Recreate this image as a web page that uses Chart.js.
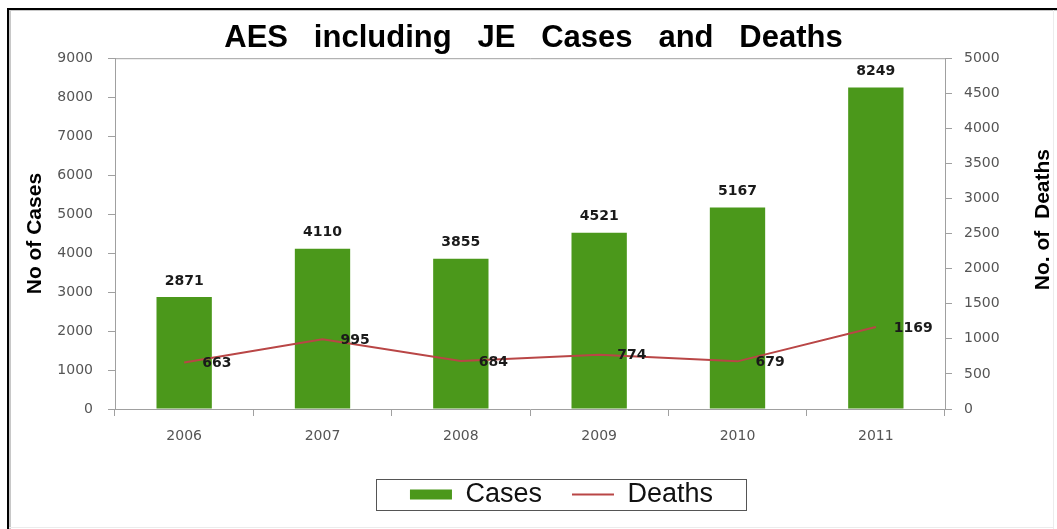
<!DOCTYPE html>
<html>
<head>
<meta charset="utf-8">
<script src="https://cdn.jsdelivr.net/npm/chart.js@4.4.1/dist/chart.umd.min.js"></script>
<style>
  html, body { margin: 0; padding: 0; background: #fff; }
  #wrap { width: 1057px; height: 529px; }
</style>
</head>
<body>
<div id="wrap"><canvas id="aesChart"></canvas></div>
<script>
// data
const years = ['2006', '2007', '2008', '2009', '2010', '2011'];
const cases = [2871, 4110, 3855, 4521, 5167, 8249];
const deaths = [663, 995, 684, 774, 679, 1169];
const casesTicks = { min: 0, max: 9000, step: 1000 };
const deathsTicks = { min: 0, max: 5000, step: 500 };

const tickFont = { family: 'DejaVu Sans', size: 14 };
const labelFont = 'bold 14px "DejaVu Sans"';
const legendShift = { x: 28, y: -16 }; // legend sits a bit right of centre in the original

// frame, plot border, value labels, legend box, right axis title
const decorations = {
  id: 'decorations',
  beforeLayout(chart) {
    const lg = chart.legend;
    if (lg && !lg._patched) {
      const fit = lg.fit;
      lg.fit = function () { fit.call(this); this.height = 54; };
      const draw = lg.draw;
      lg.draw = function () {
        this.ctx.save();
        this.ctx.translate(legendShift.x, legendShift.y);
        draw.call(this);
        this.ctx.restore();
      };
      lg._patched = true;
    }
  },
  beforeDraw(chart) {
    const ctx = chart.ctx;
    ctx.save();
    ctx.fillStyle = '#fff';
    ctx.fillRect(0, 0, chart.width, chart.height);
    ctx.fillStyle = '#000';
    ctx.fillRect(7, 8, 2, chart.height - 8);
    ctx.fillRect(7, 8, chart.width - 7, 2);
    ctx.fillStyle = '#c8c8c8';
    ctx.fillRect(9, 10, 2, chart.height - 10);
    ctx.fillRect(9, 10, chart.width - 9, 1);
    ctx.fillStyle = '#ececec';
    ctx.fillRect(chart.width - 4, 10, 1, chart.height - 10);
    ctx.fillRect(9, chart.height - 2, chart.width - 12, 1);
    ctx.restore();
  },
  afterDatasetsDraw(chart) {
    const ctx = chart.ctx;
    const a = chart.chartArea;
    ctx.save();
    ctx.strokeStyle = '#a0a0a0';
    ctx.lineWidth = 1;
    ctx.beginPath();
    ctx.moveTo(a.left, a.top + 0.5);
    ctx.lineTo(a.right + 0.5, a.top + 0.5);
    ctx.lineTo(a.right + 0.5, a.bottom);
    ctx.stroke();

    ctx.font = labelFont;
    ctx.fillStyle = '#1a1a1a';
    const barMeta = chart.getDatasetMeta(0);
    barMeta.data.forEach((bar, i) => {
      ctx.textAlign = 'center';
      ctx.textBaseline = 'middle';
      ctx.fillText(String(cases[i]), bar.x, bar.y - 16);
    });
    const lineMeta = chart.getDatasetMeta(1);
    lineMeta.data.forEach((pt, i) => {
      ctx.textAlign = 'left';
      ctx.textBaseline = 'middle';
      ctx.fillText(String(deaths[i]), pt.x + 18, pt.y + 1);
    });

    // right axis title, reads bottom to top
    const y1 = chart.scales.y1;
    ctx.translate(y1.right - 12, (a.top + a.bottom) / 2 - 14);
    ctx.rotate(-Math.PI / 2);
    ctx.font = 'bold 21px "Liberation Sans"';
    ctx.fillStyle = '#000';
    ctx.textAlign = 'center';
    ctx.fillText('No. of  Deaths', 0, 0);
    ctx.restore();
  },
  afterDraw(chart) {
    const lg = chart.legend;
    const boxes = lg.legendHitBoxes;
    if (!boxes || !boxes.length) return;
    const first = boxes[0];
    const last = boxes[boxes.length - 1];
    const cy = first.top + first.height / 2 + legendShift.y;
    const x0 = first.left + legendShift.x - 34;
    const x1 = last.left + last.width + legendShift.x + 33;
    const ctx = chart.ctx;
    ctx.save();
    ctx.strokeStyle = '#555';
    ctx.lineWidth = 1;
    ctx.strokeRect(Math.round(x0) + 0.5, Math.round(cy - 15.5) + 0.5, Math.round(x1 - x0), 31);
    ctx.restore();
  }
};

new Chart(document.getElementById('aesChart'), {
  type: 'bar',
  data: {
    labels: years,
    datasets: [{
      label: 'Cases',
      data: cases,
      yAxisID: 'y',
      backgroundColor: '#4b981b',
      barPercentage: 0.4,
      categoryPercentage: 1.0,
      order: 1
    }, {
      type: 'line',
      label: 'Deaths',
      data: deaths,
      yAxisID: 'y1',
      borderColor: '#b94646',
      backgroundColor: '#b94646',
      borderWidth: 2,
      pointRadius: 0,
      tension: 0,
      order: 0
    }]
  },
  plugins: [decorations],
  options: {
    responsive: true,
    maintainAspectRatio: false,
    animation: false,
    layout: { padding: { top: 10, left: 12, right: 2, bottom: 8 } },
    scales: {
      x: {
        grid: { display: true, drawOnChartArea: false, offset: true, tickLength: 7, color: '#a0a0a0' },
        border: { color: '#a0a0a0' },
        ticks: { color: '#555', font: tickFont, padding: 12 },
        afterFit(scale) { scale.height = 58; }
      },
      y: {
        position: 'left',
        min: casesTicks.min,
        max: casesTicks.max,
        grid: { drawOnChartArea: false, tickLength: 7, color: '#a0a0a0' },
        border: { color: '#a0a0a0' },
        ticks: { stepSize: casesTicks.step, color: '#555', font: tickFont, padding: 15, callback: v => String(v) },
        title: {
          display: true,
          text: 'No of Cases',
          color: '#000',
          font: { family: 'Liberation Sans', size: 21, weight: 'bold' },
          padding: { top: 11, bottom: 0 }
        },
        afterFit(scale) { scale.width = 103; }
      },
      y1: {
        position: 'right',
        min: deathsTicks.min,
        max: deathsTicks.max,
        grid: { drawOnChartArea: false, tickLength: 7, color: '#a0a0a0' },
        border: { color: '#a0a0a0' },
        ticks: { stepSize: deathsTicks.step, color: '#555', font: tickFont, padding: 12, callback: v => String(v) },
        afterFit(scale) { scale.width = 110; }
      }
    },
    plugins: {
      title: {
        display: true,
        text: 'AES   including   JE   Cases   and   Deaths',
        color: '#000',
        font: { family: 'Liberation Sans', size: 31, weight: 'bold' },
        padding: { top: 10, bottom: 1 }
      },
      legend: {
        position: 'bottom',
        labels: {
          color: '#111',
          font: { family: 'Liberation Sans', size: 27 },
          usePointStyle: true,
          pointStyleWidth: 42,
          boxHeight: 10,
          padding: 30,
          sort: (a, b) => a.datasetIndex - b.datasetIndex,
          generateLabels(chart) {
            return chart.data.datasets.map((ds, i) => ({
              text: ds.label,
              datasetIndex: i,
              fillStyle: ds.backgroundColor,
              strokeStyle: ds.type === 'line' ? ds.borderColor : ds.backgroundColor,
              lineWidth: ds.type === 'line' ? 2 : 0,
              pointStyle: ds.type === 'line' ? 'line' : 'rect',
              fontColor: '#111',
              hidden: false
            }));
          }
        }
      },
      tooltip: { enabled: false }
    }
  }
});
</script>
</body>
</html>
